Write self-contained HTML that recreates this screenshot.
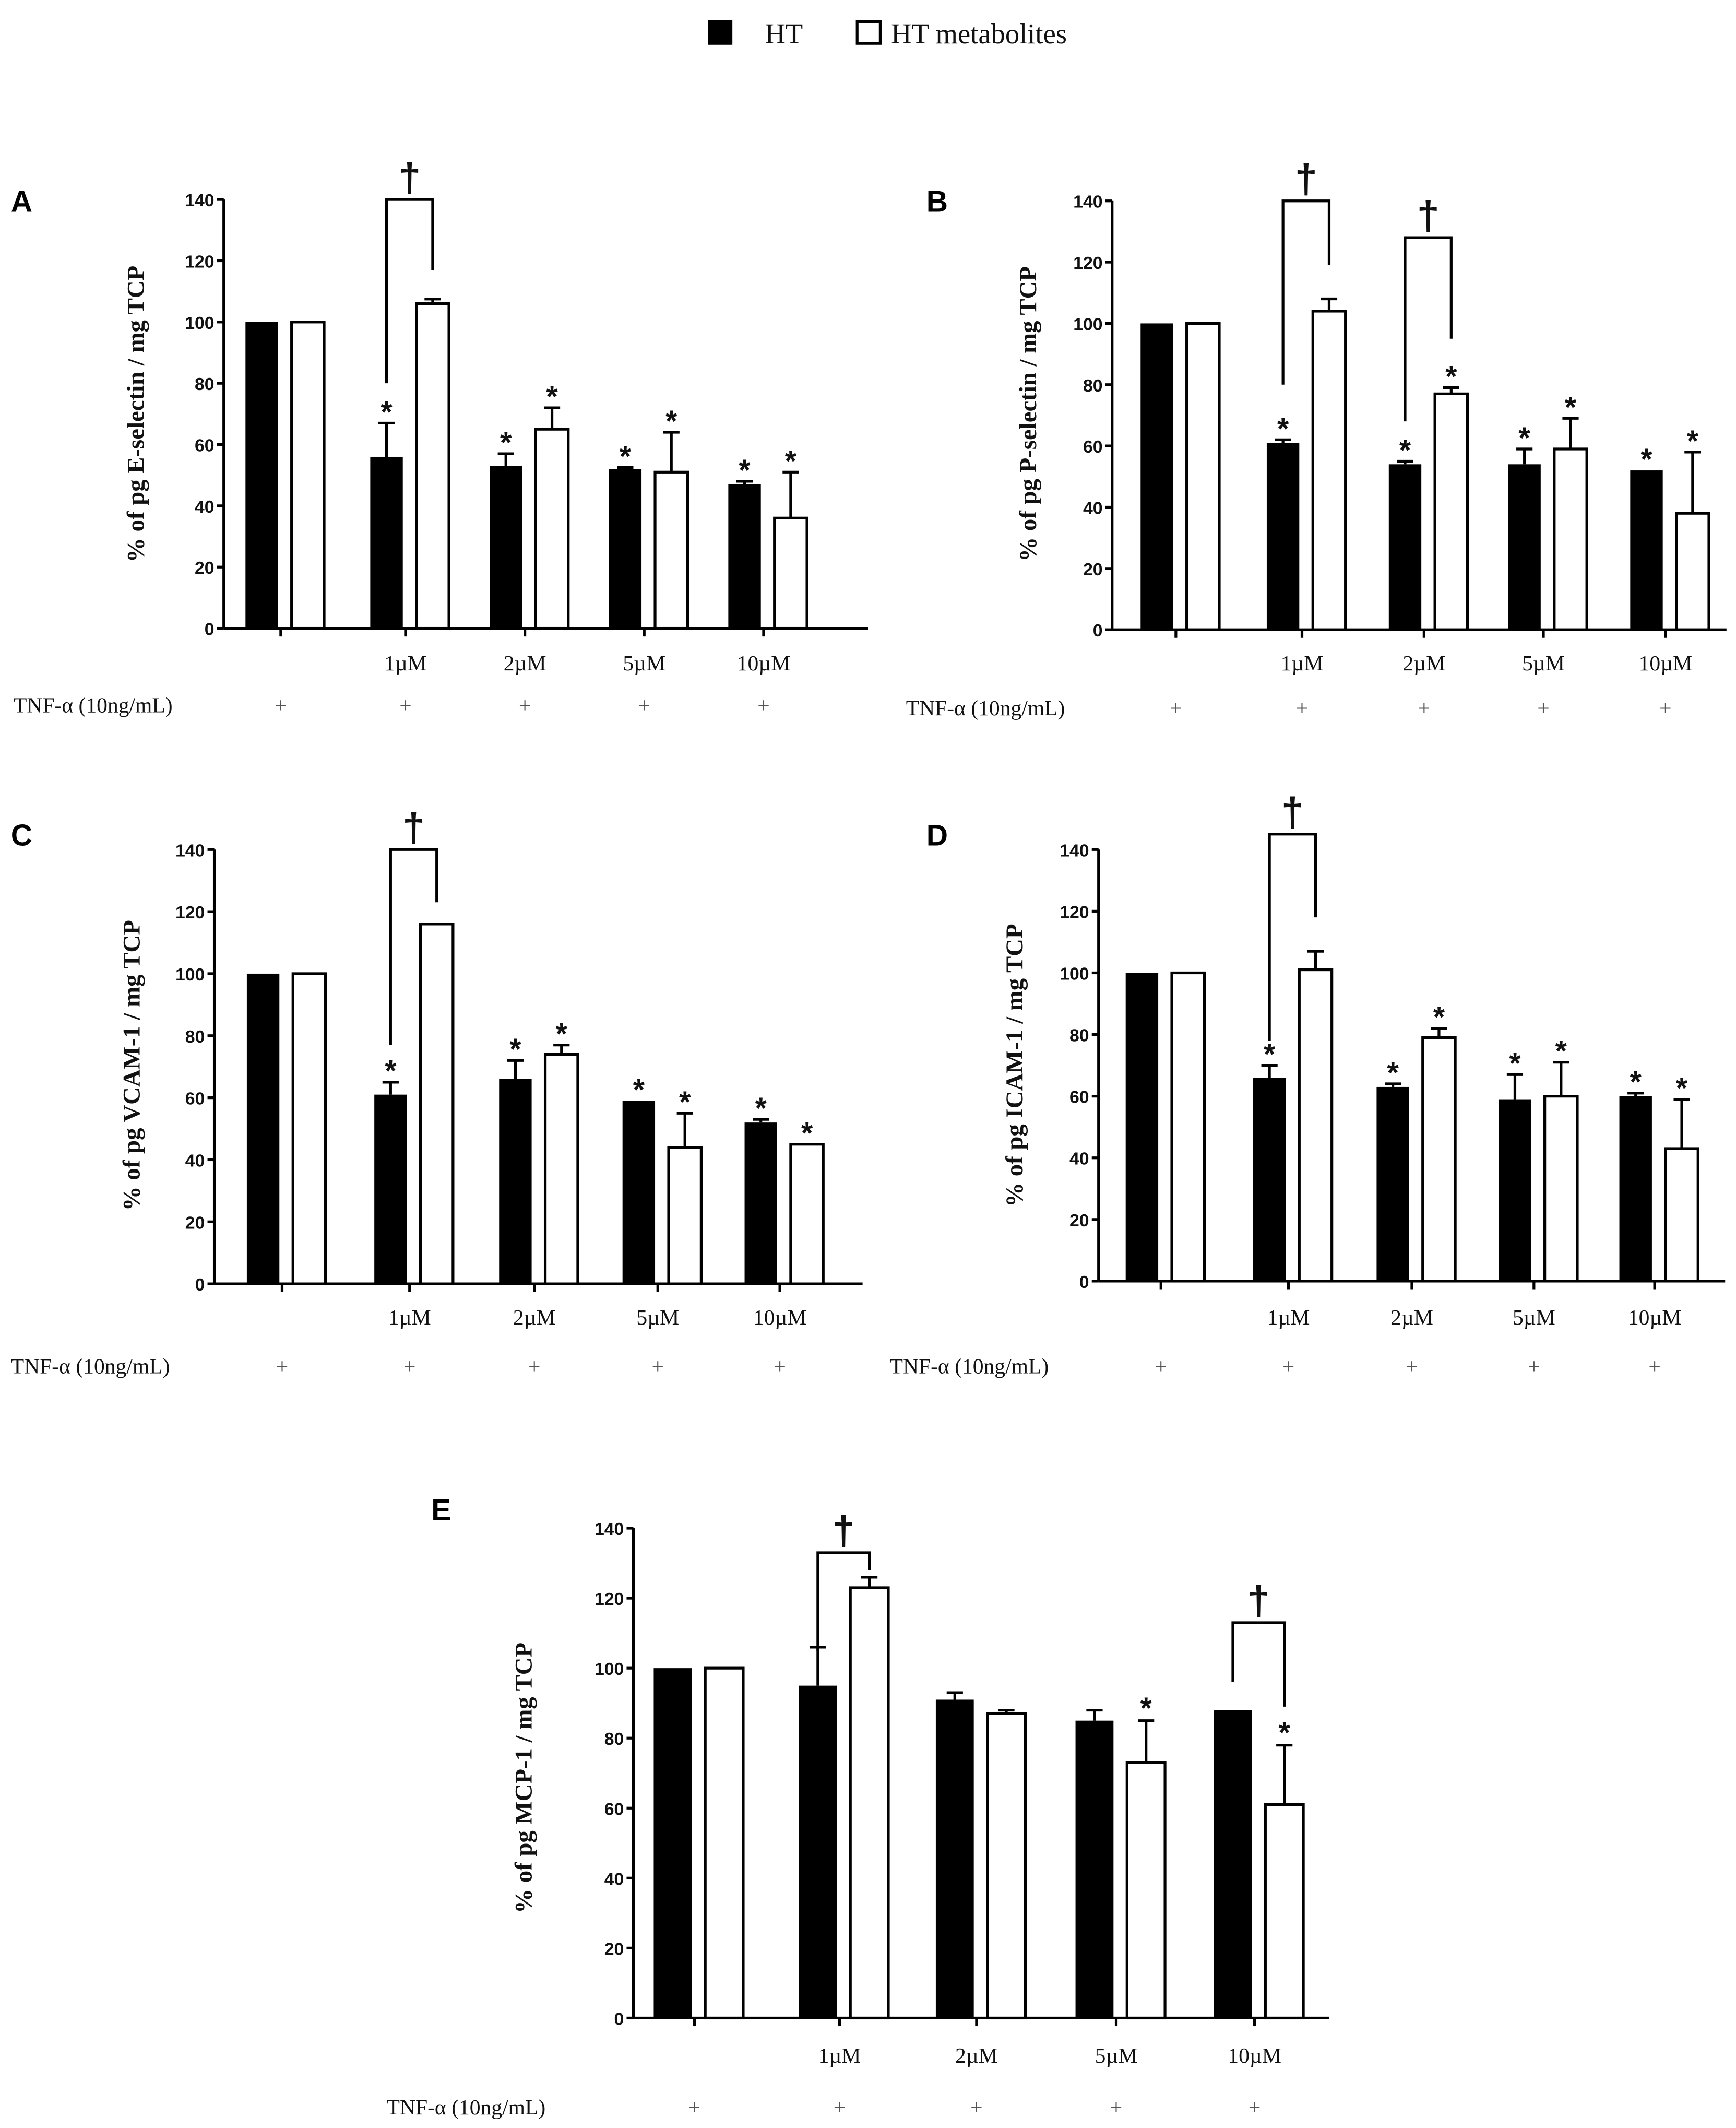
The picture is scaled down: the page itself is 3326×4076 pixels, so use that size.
<!DOCTYPE html>
<html><head><meta charset="utf-8"><style>
html,body{margin:0;padding:0;background:#fff;}
svg{display:block;}
.tk{font-family:"Liberation Sans",Arial,sans-serif;font-weight:bold;font-size:13px;fill:#111;}
.xl{font-family:"Liberation Serif",serif;font-size:16px;fill:#111;}
.yt{font-family:"Liberation Serif",serif;font-weight:bold;font-size:18px;fill:#111;}
.pl{font-family:"Liberation Sans",Arial,sans-serif;font-weight:bold;font-size:22px;fill:#000;}
.lg{font-family:"Liberation Serif",serif;font-size:21px;fill:#111;}
.pm{font-family:"Liberation Serif",serif;font-size:16px;fill:#555;}
</style></head><body>
<svg id="fig" width="3326" height="4076" viewBox="0 0 1280 1568" preserveAspectRatio="none" xmlns="http://www.w3.org/2000/svg">
<g>
<rect x="522" y="15" width="18" height="18" fill="#000"/>
<text class="lg" x="564" y="32">HT</text>
<rect x="632" y="16" width="17" height="16" fill="#fff" stroke="#000" stroke-width="2"/>
<text class="lg" x="657" y="32">HT metabolites</text>
</g>
</svg>
<script>
const concLabels = ["", "1µM", "2µM", "5µM", "10µM"];
const yTicks = [0, 20, 40, 60, 80, 100, 120, 140];
// Panel A
const htA = [100, 56, 53, 52, 47];
const htAErr = [0, 11, 4, 0.5, 1];
const metA = [100, 106, 65, 51, 36];
const metAErr = [0, 1.5, 7, 13, 15];
const starHtA = [0,1,1,1,1];
const starMetA = [0,0,1,1,1];
// Panel B
const htB = [100, 61, 54, 54, 52];
const htBErr = [0, 1, 1, 5, 0];
const metB = [100, 104, 77, 59, 38];
const metBErr = [0, 4, 2, 10, 20];
const starHtB = [0,1,1,1,1];
const starMetB = [0,0,1,1,1];
// Panel C
const htC = [100, 61, 66, 59, 52];
const htCErr = [0, 4, 6, 0, 1];
const metC = [100, 116, 74, 44, 45];
const metCErr = [0, 0, 3, 11, 0];
const starHtC = [0,1,1,1,1];
const starMetC = [0,0,1,1,1];
// Panel D
const htD = [100, 66, 63, 59, 60];
const htDErr = [0, 4, 1, 8, 1];
const metD = [100, 101, 79, 60, 43];
const metDErr = [0, 6, 3, 11, 16];
const starHtD = [0,1,1,1,1];
const starMetD = [0,0,1,1,1];
// Panel E
const htE = [100, 95, 91, 85, 88];
const htEErr = [0, 11, 2, 3, 0];
const metE = [100, 123, 87, 73, 61];
const metEErr = [0, 3, 1, 12, 17];
const starHtE = [0,0,0,0,0];
const starMetE = [0,0,0,1,1];

const NS = "http://www.w3.org/2000/svg";
const svg = document.getElementById("fig");
function mk(tag, attrs, parent, txt){const e=document.createElementNS(NS,tag);for(const k in attrs)e.setAttribute(k,attrs[k]);if(txt!==undefined)e.textContent=txt;parent.appendChild(e);return e;}

const panels = [
 {id:"a",letter:"A",lx:8,ly:156,ax:165,y0:463,y140:147,xend:640,ticks:[207,299,387,475,563],bw:24,title:"% of pg E-selectin / mg TCP",tx:100,ty:305,tnfx:10,tnfy:525,xly:494,ht:htA,he:htAErr,mt:metA,me:metAErr,sh:starHtA,sm:starMetA,
  br:[{g:1,top:140,l:80,r:117}]},
 {id:"b",letter:"B",lx:683,ly:156,ax:820,y0:464,y140:148,xend:1273,ticks:[867,960,1050,1138,1228],bw:24,title:"% of pg P-selectin / mg TCP",tx:758,ty:305,tnfx:668,tnfy:527,xly:494,ht:htB,he:htBErr,mt:metB,me:metBErr,sh:starHtB,sm:starMetB,
  br:[{g:1,top:140,l:80,r:119},{g:2,top:128,l:68,r:95}]},
 {id:"c",letter:"C",lx:8,ly:623,ax:158,y0:946,y140:626,xend:636,ticks:[208,302,394,485,575],bw:24,title:"% of pg VCAM-1 / mg TCP",tx:97,ty:785,tnfx:8,tnfy:1012,xly:976,ht:htC,he:htCErr,mt:metC,me:metCErr,sh:starHtC,sm:starMetC,
  br:[{g:1,top:140,l:77,r:123}]},
 {id:"d",letter:"D",lx:683,ly:623,ax:810,y0:944,y140:626,xend:1272,ticks:[856,950,1041,1131,1220],bw:24,title:"% of pg ICAM-1 / mg TCP",tx:748,ty:785,tnfx:656,tnfy:1012,xly:976,ht:htD,he:htDErr,mt:metD,me:metDErr,sh:starHtD,sm:starMetD,
  br:[{g:1,top:145,l:78,r:118}]},
 {id:"e",letter:"E",lx:318,ly:1120,ax:467,y0:1487,y140:1126,xend:980,ticks:[512,619,720,823,925],bw:28,title:"% of pg MCP-1 / mg TCP",tx:386,ty:1310,tnfx:285,tnfy:1558,xly:1520,ht:htE,he:htEErr,mt:metE,me:metEErr,sh:starHtE,sm:starMetE,
  br:[{g:1,top:133,l:105,r:128},{g:4,top:113,l:96,r:89}]}
];

panels.forEach(p=>{
 const g = mk("g",{},svg);
 
 
 const y = v => p.y0 - (p.y0-p.y140)*v/140;
 const L = mk("text",{class:"pl",x:p.lx,y:p.ly},g,p.letter);
 
 
 const ya = mk("line",{x1:p.ax,y1:y(140),x2:p.ax,y2:p.y0,stroke:"#000","stroke-width":2},g);
 
 
 const xa = mk("line",{x1:p.ax,y1:p.y0,x2:p.xend,y2:p.y0,stroke:"#000","stroke-width":2},g);
 
 
 yTicks.forEach(t=>{
  mk("line",{x1:p.ax-5,y1:y(t),x2:p.ax,y2:y(t),stroke:"#000","stroke-width":2},g);
  const tl = mk("text",{class:"tk",x:p.ax-7,y:y(t)+5,"text-anchor":"end"},g,String(t));
  
  
 });
 const yt = mk("text",{class:"yt",transform:`translate(${p.tx+6},${p.ty}) rotate(-90)`,"text-anchor":"middle"},g,p.title);
 
 
 const tnf = mk("text",{class:"xl",x:p.tnfx,y:p.tnfy},g,"TNF-α (10ng/mL)");
 
 
 const bw = p.bw;
 const star = (cx, v) => { const s = mk("text",{class:"tk",style:"font-size:22px",x:cx,y:y(v)+6,"text-anchor":"middle"},g,"*");
   
    };
 const err = (cx, v, e) => { if(e<=0.3) return;
   mk("line",{x1:cx,y1:y(v),x2:cx,y2:y(v+e),stroke:"#000","stroke-width":2},g);
   mk("line",{x1:cx-6,y1:y(v+e),x2:cx+6,y2:y(v+e),stroke:"#000","stroke-width":2},g); };
 p.ticks.forEach((tx,i)=>{
  mk("line",{x1:tx,y1:p.y0,x2:tx,y2:p.y0+6,stroke:"#000","stroke-width":2},g);
  if(concLabels[i]){const xl = mk("text",{class:"xl",x:tx,y:p.xly,"text-anchor":"middle"},g,concLabels[i]);
   
   }
  const pm = mk("text",{class:"pm",x:tx,y:p.tnfy,"text-anchor":"middle"},g,"+");
  
  
  const bx = tx - bw - 2, wx = tx + 8;
  const v1 = p.ht[i], v2 = p.mt[i];
  err(bx+bw/2, v1, p.he[i]);
  const b1 = mk("rect",{x:bx,y:y(v1),width:bw,height:p.y0-y(v1),fill:"#000"},g);
  
  
  err(wx+bw/2, v2, p.me[i]);
  const b2 = mk("rect",{x:wx,y:y(v2),width:bw,height:p.y0-y(v2),fill:"#fff",stroke:"#000","stroke-width":2},g);
  
  
  if(p.sh[i]) star(bx+bw/2, v1+p.he[i]+3);
  if(p.sm[i]) star(wx+bw/2, v2+p.me[i]+3);
 });
 p.br.forEach(b=>{
  const tx = p.ticks[b.g];
  const lx = tx - bw/2 - 2, rx = tx + 8 + bw/2;
  const br = mk("path",{d:`M${lx},${y(b.l)} V${y(b.top)} H${rx} V${y(b.r)}`,fill:"none",stroke:"#000","stroke-width":2},g);
  
  
  const dg = mk("text",{class:"tk",style:"font-size:30px;font-weight:bold",x:(lx+rx)/2,y:y(b.top)-6,"text-anchor":"middle"},g,"†");
  
  
 });
});
</script>
</body></html>
